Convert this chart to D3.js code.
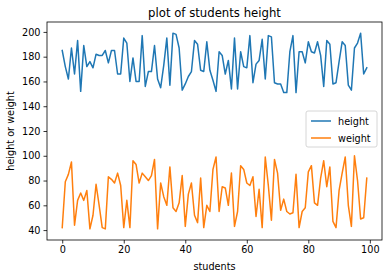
<!DOCTYPE html>
<html lang="en">
<head>
<meta charset="UTF-8">
<script src="https://cdnjs.cloudflare.com/ajax/libs/d3/7.8.5/d3.min.js"></script>
<title>plot of students height</title>
<style>
  body { margin: 0; background: #fff; }
  svg text { font-family: "DejaVu Sans", sans-serif; fill: #000; }
</style>
</head>
<body>
<div id="content"></div>
<script>
// student height (blue) and weight (orange), index 0..99
const heights = [185, 172, 162, 187, 166, 193, 152, 189, 172, 176,
                 171, 182, 181, 181, 185, 175, 185, 185, 166, 166,
                 195, 191, 160, 179, 160, 160, 197, 156, 168, 168,
                 189, 162, 155, 173, 195, 157, 199, 198, 187, 153,
                 158, 164, 168, 193, 190, 169, 168, 192, 169, 161,
                 152, 184, 181, 166, 177, 154, 195, 154, 184, 172,
                 171, 197, 159, 174, 177, 194, 162, 197, 196, 159,
                 158, 158, 151, 151, 184, 197, 151, 184, 184, 175,
                 192, 184, 183, 192, 181, 156, 193, 190, 158, 159,
                 176, 192, 189, 157, 153, 187, 191, 199, 166, 171];
const weights = [42, 79, 85, 95, 44, 64, 70, 64, 72, 41,
                 52, 77, 60, 42, 41, 83, 81, 78, 86, 76,
                 42, 64, 42, 96, 93, 78, 86, 83, 80, 84,
                 97, 41, 78, 67, 60, 91, 58, 55, 62, 84,
                 43, 69, 78, 52, 46, 82, 42, 60, 55, 89,
                 99, 55, 75, 74, 60, 86, 43, 55, 92, 89,
                 78, 76, 83, 51, 73, 42, 99, 76, 48, 97,
                 86, 56, 65, 55, 53, 54, 85, 42, 55, 58,
                 87, 92, 62, 60, 82, 96, 75, 91, 47, 42,
                 72, 86, 99, 60, 43, 100, 80, 49, 50, 82];
const xTicks = [0, 20, 40, 60, 80, 100];
const yTicks = [40, 60, 80, 100, 120, 140, 160, 180, 200];
const seriesNames = ['height', 'weight'];
const colors = ['#1f77b4', '#ff7f0e'];

const width = 389, height = 278;
const m = { left: 47, top: 22, right: 382, bottom: 240 };

const xs = d3.range(heights.length);
const xScale = d3.scaleLinear().domain([-4.95, 103.95]).range([m.left, m.right]);
const yScale = d3.scaleLinear().domain([32, 208]).range([m.bottom, m.top]);

const svg = d3.select('#content').append('svg')
    .attr('width', width)
    .attr('height', height);

//-Lines
const line = d3.line()
    .x((d, i) => xScale(i))
    .y(d => yScale(d));
[heights, weights].forEach((s, k) => {
    svg.append('path')
        .datum(s)
        .attr('d', line)
        .attr('fill', 'none')
        .attr('stroke', colors[k])
        .attr('stroke-width', 1.5)
        .attr('stroke-linejoin', 'round')
        .attr('stroke-linecap', 'square');
});

//-Axes
const xAxis = d3.axisBottom(xScale).tickValues(xTicks).tickSize(3.5).tickPadding(3);
const gx = svg.append('g')
    .attr('transform', `translate(0,${m.bottom})`)
    .call(xAxis);
const yAxis = d3.axisLeft(yScale).tickValues(yTicks).tickSize(3.5).tickPadding(3);
const gy = svg.append('g')
    .attr('transform', `translate(${m.left},0)`)
    .call(yAxis);
[gx, gy].forEach(g => {
    g.select('.domain').remove();
    g.selectAll('line').attr('stroke', '#000').attr('stroke-width', 0.8);
    g.selectAll('text').style('font-size', '9.7px').style('font-family', '"DejaVu Sans", sans-serif').attr('fill', '#000');
});

//-Frame
svg.append('rect')
    .attr('x', m.left)
    .attr('y', m.top)
    .attr('width', m.right - m.left)
    .attr('height', m.bottom - m.top)
    .attr('fill', 'none')
    .attr('stroke', '#000')
    .attr('stroke-width', 0.8);

//-Title and labels
svg.append('text')
    .text('plot of students height')
    .attr('x', (m.left + m.right) / 2)
    .attr('y', 17)
    .attr('text-anchor', 'middle')
    .style('font-size', '11.7px');
svg.append('text')
    .text('students')
    .attr('x', (m.left + m.right) / 2)
    .attr('y', 270)
    .attr('text-anchor', 'middle')
    .style('font-size', '9.7px');
svg.append('text')
    .text('height or weight')
    .attr('transform', `translate(14,${(m.top + m.bottom) / 2}) rotate(-90)`)
    .attr('text-anchor', 'middle')
    .style('font-size', '9.7px');

//-Legend
const legend = svg.append('g')
    .attr('transform', 'translate(306,111)');
legend.append('rect')
    .attr('width', 71)
    .attr('height', 36)
    .attr('rx', 2)
    .attr('fill', '#fff')
    .attr('fill-opacity', 0.8)
    .attr('stroke', '#ccc')
    .attr('stroke-width', 0.8);
seriesNames.forEach((name, k) => {
    const row = legend.append('g').attr('transform', `translate(0,${10 + k * 17})`);
    row.append('line')
        .attr('x1', 5).attr('x2', 25)
        .attr('stroke', colors[k])
        .attr('stroke-width', 1.5);
    row.append('text')
        .text(name)
        .attr('x', 32)
        .attr('y', 3.5)
        .style('font-size', '9.7px');
});
</script>
</body>
</html>
